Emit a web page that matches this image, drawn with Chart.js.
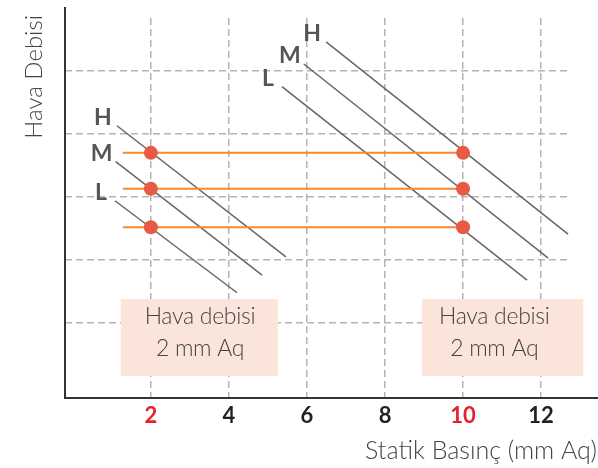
<!DOCTYPE html>
<html>
<head>
<meta charset="utf-8">
<script src="https://cdn.jsdelivr.net/npm/chart.js@4"></script>
<style>
  html, body { margin: 0; padding: 0; background: #fff; }
  #wrap { width: 598px; height: 468px; position: relative; }
</style>
</head>
<body>
<div id="wrap"><canvas id="myChart" width="598" height="468"></canvas></div>
<script>
// data
const xTickValues = [2, 4, 6, 8, 10, 12];
const highlightTicks = [2, 10];
const yGridValues = [1, 2, 3, 4, 5];

const curveNames = ['H', 'M', 'L', 'H', 'M', 'L'];
const curveStartX = [1.13, 1.10, 1.08, 6.49, 5.92, 5.36];
const curveStartY = [4.13, 3.56, 2.94, 5.46, 5.11, 4.75];
const curveEndX = [5.46, 4.85, 4.21, 12.69, 12.18, 11.64];
const curveEndY = [2.05, 1.76, 1.48, 2.41, 2.03, 1.68];

const flowLevels = [3.70, 3.13, 2.52];
const flowStartX = 1.28;
const pressurePoints = [2, 10];

const noteText = ['Hava debisi', '2 mm Aq'];
const yTitle = 'Hava Debisi';
const xTitle = 'Statik Basınç (mm Aq)';

const textFont = '"Lato", "Open Sans", sans-serif';
const darkGray = '#666666';

let datasets = [];

// red dots on top
let dots = [];
for (let i = 0; i < pressurePoints.length; i++) {
    for (let j = 0; j < flowLevels.length; j++) {
        dots.push({ x: pressurePoints[i], y: flowLevels[j] });
    }
}
datasets.push({
    data: dots,
    showLine: false,
    pointRadius: 7,
    pointHoverRadius: 7,
    pointBackgroundColor: '#e85a44',
    pointBorderWidth: 0,
    order: 0
});

for (let j = 0; j < flowLevels.length; j++) {
    datasets.push({
        data: [{ x: flowStartX, y: flowLevels[j] }, { x: pressurePoints[1], y: flowLevels[j] }],
        borderColor: '#f58a2e',
        borderWidth: 2,
        pointRadius: 0,
        order: 1
    });
}

for (let i = 0; i < curveNames.length; i++) {
    datasets.push({
        label: curveNames[i],
        data: [{ x: curveStartX[i], y: curveStartY[i] }, { x: curveEndX[i], y: curveEndY[i] }],
        borderColor: darkGray,
        borderWidth: 1.5,
        pointRadius: 0,
        order: 2
    });
}

// pink note boxes, axis lines, curve letters and titles
const decor = {
    id: 'decor',
    beforeDatasetsDraw(chart) {
        const ctx = chart.ctx, xs = chart.scales.x, ys = chart.scales.y;
        const boxes = [[1.23, 5.26, 3.26], [8.95, 13.08, 10.8]];
        ctx.save();
        boxes.forEach(b => {
            const x0 = xs.getPixelForValue(b[0]), x1 = xs.getPixelForValue(b[1]);
            const y0 = ys.getPixelForValue(1.38), y1 = ys.getPixelForValue(0.16);
            ctx.fillStyle = '#fbe4da';
            ctx.fillRect(x0, y0, x1 - x0, y1 - y0);
            ctx.fillStyle = '#444';
            ctx.font = '300 23px ' + textFont;
            ctx.letterSpacing = '-0.3px';
            ctx.textAlign = 'center';
            ctx.textBaseline = 'middle';
            const cx = xs.getPixelForValue(b[2]);
            ctx.fillText(noteText[0], cx, y0 + 18);
            ctx.fillText(noteText[1], cx, y0 + 50);
        });
        ctx.restore();
    },
    afterDraw(chart) {
        const ctx = chart.ctx, a = chart.chartArea;
        ctx.save();
        // axes
        ctx.strokeStyle = '#333';
        ctx.lineWidth = 2;
        ctx.beginPath();
        ctx.moveTo(a.left, 7);
        ctx.lineTo(a.left, a.bottom);
        ctx.lineTo(598, a.bottom);
        ctx.stroke();

        // letters at the start of each curve
        ctx.fillStyle = '#555';
        ctx.font = 'bold 23px ' + textFont;
        ctx.textAlign = 'center';
        ctx.textBaseline = 'middle';
        for (let i = 0; i < curveNames.length; i++) {
            const px = chart.scales.x.getPixelForValue(curveStartX[i]);
            const py = chart.scales.y.getPixelForValue(curveStartY[i]);
            ctx.fillText(curveNames[i], px - 14, py - 8);
        }

        // titles
        ctx.fillStyle = '#444';
        ctx.font = '300 25px ' + textFont;
        ctx.textAlign = 'right';
        ctx.textBaseline = 'alphabetic';
        ctx.fillText(xTitle, 597, 459);
        ctx.font = '300 24px ' + textFont;
        ctx.translate(42, 15);
        ctx.rotate(-Math.PI / 2);
        ctx.fillText(yTitle, 0, 0);
        ctx.restore();
    }
};

new Chart(document.getElementById('myChart'), {
    type: 'line',
    data: { datasets: datasets },
    plugins: [decor],
    options: {
        responsive: false,
        animation: false,
        layout: { padding: { top: 18, right: 28, left: 0, bottom: 0 } },
        plugins: { legend: { display: false }, tooltip: { enabled: false } },
        scales: {
            x: {
                type: 'linear',
                min: -0.2,
                max: 12.74,
                afterBuildTicks: (s) => { s.ticks = xTickValues.map(v => ({ value: v })); },
                afterFit: (s) => { s.height = 70; },
                grid: { color: '#b4b4b4', lineWidth: 1.5, drawTicks: false },
                border: { display: false, dash: [7, 4] },
                ticks: {
                    padding: 5,
                    font: { family: textFont, size: 22, weight: 'bold' },
                    color: (c) => highlightTicks.includes(c.tick.value) ? '#e8202a' : '#222'
                }
            },
            y: {
                type: 'linear',
                min: -0.19,
                max: 5.84,
                afterBuildTicks: (s) => { s.ticks = yGridValues.map(v => ({ value: v })); },
                afterFit: (s) => { s.width = 65; },
                grid: { color: '#b4b4b4', lineWidth: 1.5, drawTicks: false },
                border: { display: false, dash: [7, 4] },
                ticks: { display: false }
            }
        }
    }
});
</script>
</body>
</html>
